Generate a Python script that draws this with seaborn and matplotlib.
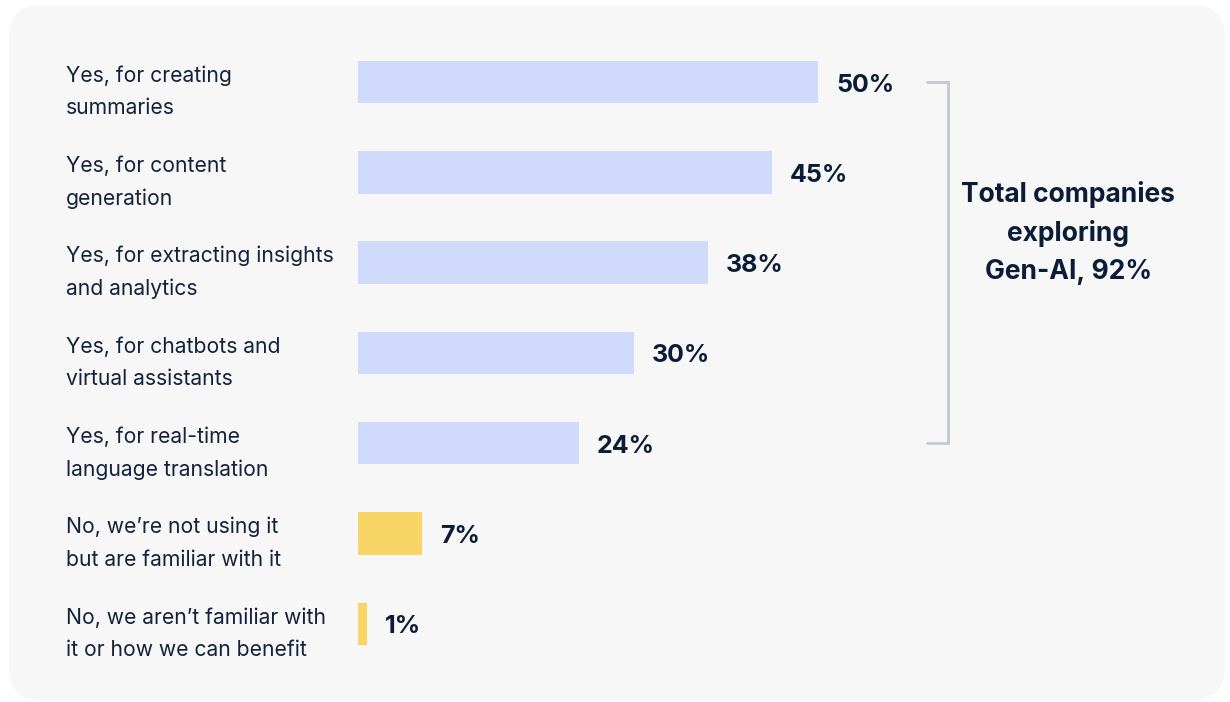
import matplotlib
matplotlib.use("Agg")
import matplotlib.pyplot as plt
import matplotlib.transforms as mtransforms
from matplotlib.patches import FancyBboxPatch
import seaborn as sns
import pandas as pd

# Survey answers and shares (%)
answers = [
    "Yes, for creating\nsummaries",
    "Yes, for content\ngeneration",
    "Yes, for extracting insights\nand analytics",
    "Yes, for chatbots and\nvirtual assistants",
    "Yes, for real-time\nlanguage translation",
    "No, we\u2019re not using it\nbut are familiar with it",
    "No, we aren\u2019t familiar with\nit or how we can benefit",
]
shares = [50, 45, 38, 30, 24, 7, 1]
groups = ["yes", "yes", "yes", "yes", "yes", "no", "no"]
total_label = "Total companies\nexploring\nGen-AI, 92%"

BLUE = "#D0DBFC"
YELLOW = "#F9D466"
TEXT = "#13223A"
VALUE = "#0B1C36"
BRACKET = "#C3C8D1"
CARD = "#F7F7F7"

sns.set_theme(style="white")
plt.rcParams["font.family"] = ["Inter", "DejaVu Sans"]

W, H = 1230, 702
fig = plt.figure(figsize=(W / 100, H / 100), dpi=100, facecolor="white")

# Rounded card behind the chart (pixel coordinates)
card = FancyBboxPatch((9, 2), 1216, 695,
                      boxstyle="round,pad=0,rounding_size=32",
                      transform=mtransforms.IdentityTransform(),
                      facecolor=CARD, edgecolor="none", zorder=-10)
fig.patches.append(card)

# Axes geometry: bars start at x=358 px, 9.2 px per percentage point
x0_px, x1_px = 358, 1220
px_per_pct = 9.2
row_px = 90.3
top_px = 82 - row_px / 2
ax_h_px = row_px * len(answers)
ax = fig.add_axes([x0_px / W, 1 - (top_px + ax_h_px) / H,
                   (x1_px - x0_px) / W, ax_h_px / H])
ax.set_zorder(5)
ax.set_facecolor("none")

df = pd.DataFrame({"answer": answers, "share": shares, "group": groups})
sns.barplot(data=df, x="share", y="answer", hue="group",
            palette={"yes": BLUE, "no": YELLOW}, dodge=False,
            width=0.47, legend=False, ax=ax, saturation=1, linewidth=0)

ax.set_xlim(0, (x1_px - x0_px) / px_per_pct)
ax.set_ylim(len(answers) - 0.5, -0.5)
for s in ax.spines.values():
    s.set_visible(False)
ax.set_xticks([])
ax.set_yticks([])
ax.set_xlabel("")
ax.set_ylabel("")

# Category labels, left aligned at a fixed page position
lbl_tr = mtransforms.blended_transform_factory(fig.transFigure, ax.transData)
for i, a in enumerate(answers):
    ax.text(66 / W, i + 0.11, a, transform=lbl_tr, ha="left", va="center",
            fontsize=15.2, color=TEXT, linespacing=1.78, clip_on=False)

# Value labels at the bar ends
off = mtransforms.offset_copy(ax.transData, fig=fig, x=18, y=-3, units="dots")
for i, v in enumerate(shares):
    ax.text(v, i, f"{v}%", transform=off, ha="left", va="center",
            fontsize=18, fontweight="bold", color=VALUE)

# Bracket spanning the "yes" answers
yes_rows = [i for i, g in enumerate(groups) if g == "yes"]
y_top, y_bot = yes_rows[0], yes_rows[-1]
bx_in, bx_out = 61.8, 64.1
ax.plot([bx_in, bx_out, bx_out, bx_in], [y_top, y_top, y_bot, y_bot],
        color=BRACKET, lw=2, solid_joinstyle="miter", clip_on=False)
ax.text(77.2, 1.67, total_label, ha="center", va="center",
        fontsize=19, fontweight="bold", color=VALUE, linespacing=1.6)

fig.savefig("out.png", dpi=100, facecolor="white")
